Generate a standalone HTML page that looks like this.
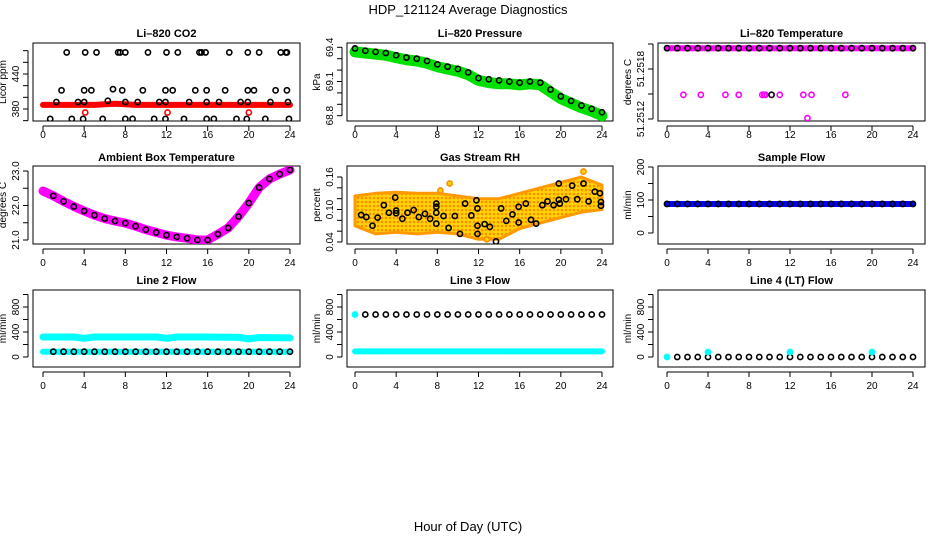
<!DOCTYPE html>
<html><head><meta charset="utf-8">
<style>
html,body{margin:0;padding:0;background:#fff;}
svg{display:block;font-family:"Liberation Sans",sans-serif;}
</style></head>
<body>
<svg id="fig" width="936" height="540" viewBox="0 0 936 540" xmlns="http://www.w3.org/2000/svg">
<defs>
<pattern id="rhpat" width="4" height="4" patternUnits="userSpaceOnUse">
<rect width="4" height="4" fill="#ffd700"/>
<circle cx="2" cy="2" r="1.3" fill="#ff8c00"/>
</pattern>
</defs>
<text x="468" y="14" text-anchor="middle" font-size="13">HDP_121124  Average Diagnostics</text>
<text x="468" y="531" text-anchor="middle" font-size="13">Hour of Day (UTC)</text>
<g id="plots"></g>
</svg>
<script>
// ---------- data ----------
const hours = [0,1,2,3,4,5,6,7,8,9,10,11,12,13,14,15,16,17,18,19,20,21,22,23,24];
const xTicks = [0,4,8,12,16,20,24];

// CO2
const co2TopHours = [2.3,4.1,5.2,7.3,7.5,8.0,10.2,12.0,13.1,15.2,15.4,15.8,18.1,19.9,21.0,23.1,23.6,23.7];
const co2TopVals = [477,477,477,477,477,477,477,477,477,477,477,477,477,477,477,477,477,477];
const co2MidHours = [1.8,4.0,4.7,6.8,7.7,9.7,11.9,12.6,14.8,15.9,17.7,19.9,20.5,22.6,23.7];
const co2MidVals = [412,412,412,414,412,412,412,412,412,412,412,412,412,412,412];
const co2LowHours = [1.3,3.4,4.0,6.3,8.0,9.2,11.3,11.9,14.2,15.9,17.1,19.2,19.9,22.1,23.8];
const co2LowVals = [392,392,392,394,392,392,392,392,392,392,392,392,392,392,392];
const co2BotHours = [0.7,2.8,3.9,5.8,8.0,8.7,10.8,11.9,13.7,15.9,16.6,18.8,19.8,21.6,23.9];
const co2BotVals = [363,363,363,363,363,363,363,363,363,363,363,363,363,363,363];
const co2RedHours = [4.1,12.1,20.0];
const co2RedVals = [374,374,374];
const co2Band = [387,387,387,387,387,387,388,389,388,387,387,387,387,387,387,387,387,387,387,387,387,387,387,387,387];

// Pressure
const presVals = [69.39,69.37,69.36,69.35,69.33,69.31,69.30,69.28,69.25,69.23,69.21,69.18,69.13,69.12,69.11,69.10,69.09,69.10,69.09,69.03,68.97,68.93,68.89,68.86,68.83];
const presBand = [69.36,69.35,69.34,69.33,69.31,69.29,69.28,69.26,69.23,69.21,69.19,69.16,69.11,69.09,69.08,69.08,69.07,69.08,69.07,69.01,68.95,68.91,68.87,68.84,68.80];

// Li-820 Temperature
const ltTopVals = [51.25205,51.25205,51.25205,51.25205,51.25205,51.25205,51.25205,51.25205,51.25205,51.25205,51.25205,51.25205,51.25205,51.25205,51.25205,51.25205,51.25205,51.25205,51.25205,51.25205,51.25205,51.25205,51.25205,51.25205,51.25205];
const ltMidHours = [1.6,3.3,5.7,7.0,9.3,9.5,9.6,11.0,13.3,14.1,17.4];
const ltMidVals = [51.25149,51.25149,51.25149,51.25149,51.25149,51.25149,51.25149,51.25149,51.25149,51.25149,51.25149];
const ltBlackHours = [10.2];
const ltBlackVals = [51.25149];
const ltLowHours = [13.7];
const ltLowVals = [51.25121];

// Ambient box temperature
const ambVals = [22.42,22.28,22.12,21.97,21.84,21.72,21.62,21.55,21.49,21.40,21.30,21.22,21.14,21.09,21.05,21.00,21.00,21.17,21.35,21.68,22.07,22.52,22.77,22.91,23.03];

// Gas stream RH
const rhHours = [0.6,1.1,1.7,2.2,2.8,3.3,3.9,4.0,4.0,4.6,5.1,5.7,6.2,6.8,7.3,7.9,7.9,7.9,7.9,8.6,9.1,9.7,10.2,10.7,11.3,11.8,11.9,11.9,11.9,12.6,13.1,13.7,14.2,14.7,15.3,15.9,15.9,16.6,17.1,17.6,18.2,18.7,19.3,19.8,19.8,19.9,20.5,21.1,21.6,22.2,22.7,23.3,23.8,23.9,23.9];
const rhVals = [0.090,0.086,0.070,0.085,0.108,0.094,0.122,0.098,0.093,0.083,0.094,0.099,0.086,0.092,0.083,0.094,0.111,0.105,0.074,0.088,0.066,0.088,0.055,0.111,0.089,0.117,0.102,0.070,0.055,0.073,0.068,0.041,0.102,0.079,0.091,0.105,0.076,0.111,0.081,0.074,0.108,0.115,0.108,0.148,0.118,0.111,0.119,0.144,0.119,0.148,0.115,0.133,0.130,0.114,0.107];
const rhEnvHours = [0,2,4,6,8,10,12,14,16,18,20,22,24];
const rhUpper = [0.125,0.130,0.132,0.130,0.130,0.125,0.120,0.120,0.130,0.140,0.150,0.160,0.145];
const rhLower = [0.070,0.055,0.058,0.055,0.058,0.055,0.045,0.045,0.065,0.075,0.085,0.095,0.100];
const rhOutHours = [9.2,22.2,8.3,12.8];
const rhOutVals = [0.148,0.170,0.135,0.045];

// Flows
const sampleVals = [88,88,88,88,88,88,88,88,88,88,88,88,88,88,88,88,88,88,88,88,88,88,88,88,88];
const line2High = [320,320,320,320,300,320,320,320,320,320,320,320,300,320,320,320,320,318,316,314,290,312,310,308,306];
const line2Low = [85,85,85,85,85,85,85,85,85,85,85,85,85,85,85,85,85,85,85,85,85,85,85,85,85];
const line3High = [680,680,680,680,680,680,680,680,680,680,680,680,680,680,680,680,680,680,680,680,680,680,680,680,680];
const line3Low = [90,90,90,90,90,90,90,90,90,90,90,90,90,90,90,90,90,90,90,90,90,90,90,90,90];
const line4Vals = [0,0,0,0,0,0,0,0,0,0,0,0,0,0,0,0,0,0,0,0,0,0,0,0,0];
const line4CyanHours = [0,4,12,20];
const line4CyanVals = [0,80,80,80];

// ---------- drawing ----------
const NS = "http://www.w3.org/2000/svg";
const root = document.getElementById('plots');
const cols = [{l:33,r:300,x0:43,x24:290},{l:347,r:613,x0:355,x24:602},{l:658,r:925,x0:667,x24:913}];
const rows = [{t:43,b:121,title:37,lab:138},{t:166,b:244,title:161,lab:266},{t:290,b:367,title:284,lab:389}];

function el(tag, attrs, parent){
  const e = document.createElementNS(NS, tag);
  for (const k in attrs) e.setAttribute(k, attrs[k]);
  (parent||root).appendChild(e);
  return e;
}

function panel(c, r, name, title, ylab, v1, p1, v2, p2, yticks, ylabels){
  const C = cols[c], R = rows[r];
  const g = el('g', {});
  
  
  const sx = h => C.x0 + (C.x24 - C.x0) * h / 24;
  const sy = v => p1 + (v - v1) * (p2 - p1) / (v2 - v1);
  const t = el('text', {x:(C.l+C.r)/2, y:R.title, 'text-anchor':'middle', 'font-size':11, 'font-weight':'bold'}, g);
  t.textContent = title;
  
  
  const box = el('rect', {x:C.l, y:R.t, width:C.r-C.l, height:R.b-R.t, fill:'none', stroke:'#000', 'stroke-width':1}, g);
  
  
  const xa = el('g', {}, g);
  
  
  el('line', {x1:sx(0), x2:sx(24), y1:R.b+5, y2:R.b+5, stroke:'#000'}, xa);
  xTicks.forEach(h => {
    el('line', {x1:sx(h), x2:sx(h), y1:R.b+5, y2:R.b+10, stroke:'#000'}, xa);
    const lt = el('text', {x:sx(h), y:R.lab, 'text-anchor':'middle', 'font-size':10}, xa);
    lt.textContent = h;
  });
  const ya = el('g', {}, g);
  
  
  const yl = C.l - 5;
  el('line', {x1:yl, x2:yl, y1:sy(yticks[0]), y2:sy(yticks[yticks.length-1]), stroke:'#000'}, ya);
  yticks.forEach((v, i) => {
    el('line', {x1:yl-5, x2:yl, y1:sy(v), y2:sy(v), stroke:'#000'}, ya);
    if (ylabels[i] !== '') {
      const tx = C.l - 14, ty = sy(v);
      const lt = el('text', {x:tx, y:ty, 'text-anchor':'middle', 'font-size':10, transform:`rotate(-90 ${tx} ${ty})`}, ya);
      lt.textContent = ylabels[i];
    }
  });
  const yx = C.l - 27, yy = (R.t + R.b) / 2;
  const ytl = el('text', {x:yx, y:yy, 'text-anchor':'middle', 'font-size':10, transform:`rotate(-90 ${yx} ${yy})`}, g);
  ytl.textContent = ylab;
  
  
  const clipId = 'clip-' + name;
  const cp = el('clipPath', {id:clipId}, g);
  el('rect', {x:C.l, y:R.t, width:C.r-C.l, height:R.b-R.t}, cp);
  const data = el('g', {'clip-path':`url(#${clipId})`}, g);
  return {sx, sy, g:data, name};
}

function band(P, xs, ys, color, w, label){
  const pts = xs.map((h,i) => P.sx(h).toFixed(1) + ',' + P.sy(ys[i]).toFixed(1)).join(' ');
  const pl = el('polyline', {points:pts, fill:'none', stroke:color, 'stroke-width':w, 'stroke-linecap':'round', 'stroke-linejoin':'round'}, P.g);
  
  
}
function pts(P, xs, ys, color, rad, label, fill){
  const g = el('g', {}, P.g);
  
  
  xs.forEach((h,i) => {
    el('circle', {cx:P.sx(h), cy:P.sy(ys[i]), r:rad, fill:fill||'none', stroke:color, 'stroke-width':1.6}, g);
  });
}

// CO2
let P = panel(0,0,'co2','Li\u2013820 CO2','Licor ppm',380,109,440,74,[360,380,400,420,440,460,480],['','380','','','440','','']);
band(P, hours, co2Band, '#ff0000', 6, 'red-band');
pts(P, co2TopHours, co2TopVals, '#000', 2.6, 'points-top');
pts(P, co2MidHours, co2MidVals, '#000', 2.6, 'points-mid');
pts(P, co2LowHours, co2LowVals, '#000', 2.6, 'points-low');
pts(P, co2BotHours, co2BotVals, '#000', 2.6, 'points-bottom');
pts(P, co2RedHours, co2RedVals, '#ff0000', 2.6, 'red-points');

// Pressure
P = panel(1,0,'pressure','Li\u2013820 Pressure','kPa',69.4,47.3,68.8,115.7,[68.8,68.9,69.0,69.1,69.2,69.3,69.4],['68.8','','','69.1','','','69.4']);
band(P, hours, presBand, '#00e000', 11, 'green-band');
pts(P, hours, presVals, '#000', 2.6, 'black-points');

// Li-820 temperature
P = panel(2,0,'li820-temp','Li\u2013820 Temperature','degrees C',51.2518,69,51.2512,119,[51.2512,51.2515,51.2518,51.2521],['51.2512','','51.2518','']);
band(P, hours, ltTopVals, '#ff00ff', 6, 'magenta-band');
pts(P, hours, ltTopVals, '#000', 2.6, 'black-points');
pts(P, ltMidHours, ltMidVals, '#ff00ff', 2.6, 'magenta-points');
pts(P, ltBlackHours, ltBlackVals, '#000', 2.6, 'black-point-mid');
pts(P, ltLowHours, ltLowVals, '#ff00ff', 2.6, 'magenta-point-low');

// Ambient
P = panel(0,1,'ambient-temp','Ambient Box Temperature','degrees C',23,171,21,240,[21,21.5,22,22.5,23],['21.0','','22.0','','23.0']);
band(P, hours, ambVals, '#ff00ff', 9, 'magenta-band');
pts(P, hours.slice(1), ambVals.slice(1), '#000', 2.6, 'black-points');

// RH
P = panel(1,1,'gas-rh','Gas Stream RH','percent',0.16,177,0.04,242,[0.04,0.06,0.08,0.10,0.12,0.14,0.16],['0.04','','','0.10','','','0.16']);
{
  const up = rhEnvHours.map((h,i) => P.sx(h).toFixed(1)+','+P.sy(rhUpper[i]).toFixed(1));
  const lo = rhEnvHours.map((h,i) => P.sx(h).toFixed(1)+','+P.sy(rhLower[i]).toFixed(1)).reverse();
  const poly = el('polygon', {points:up.concat(lo).join(' '), fill:'url(#rhpat)', stroke:'#ff9900', 'stroke-width':3, 'stroke-linejoin':'round'}, P.g);
  
  
}
pts(P, rhOutHours, rhOutVals, '#ff8c00', 2.6, 'orange-outliers', '#ffd700');
pts(P, rhHours, rhVals, '#000', 2.6, 'black-points');

// Sample flow
P = panel(2,1,'sample-flow','Sample Flow','ml/min',200,167,0,233,[0,50,100,150,200],['0','','100','','200']);
band(P, hours, sampleVals, '#0000ff', 6, 'blue-band');
pts(P, hours, sampleVals, '#000', 2.6, 'black-points');

// Line 2
P = panel(0,2,'line2-flow','Line 2 Flow','ml/min',800,307,0,357,[0,200,400,600,800,1000],['0','','400','','800','']);
band(P, hours, line2High, '#00ffff', 7, 'cyan-band-high');
band(P, hours, line2Low, '#00ffff', 6, 'cyan-band-low');
pts(P, hours.slice(1), line2Low.slice(1), '#000', 2.6, 'black-points');

// Line 3
P = panel(1,2,'line3-flow','Line 3 Flow','ml/min',800,307,0,357,[0,200,400,600,800,1000],['0','','400','','800','']);
band(P, hours, line3Low, '#00ffff', 6, 'cyan-band');
pts(P, [0], [line3High[0]], '#00ffff', 2.6, 'cyan-point', '#00ffff');
pts(P, hours.slice(1), line3High.slice(1), '#000', 2.6, 'black-points');

// Line 4
P = panel(2,2,'line4-flow','Line 4 (LT) Flow','ml/min',800,307,0,357,[0,200,400,600,800,1000],['0','','400','','800','']);
pts(P, hours.slice(1), line4Vals.slice(1), '#000', 2.6, 'black-points');
pts(P, line4CyanHours, line4CyanVals, '#00ffff', 2.6, 'cyan-points', '#00ffff');
</script>
</body></html>
